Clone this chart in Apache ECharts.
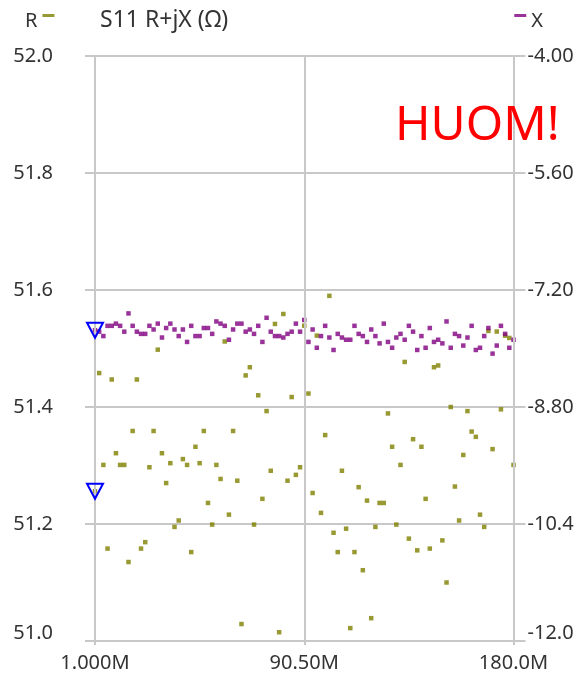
<!DOCTYPE html>
<html>
<head>
<meta charset="utf-8">
<script src="https://cdn.jsdelivr.net/npm/echarts@6/dist/echarts.min.js"></script>
<style>
  html, body { margin: 0; padding: 0; background: #ffffff; }
  #chart { width: 582px; height: 675px; }
</style>
</head>
<body>
<div id="chart"></div>
<script>
// Sweep frequencies (MHz), 101 points from 1 to 180 MHz
const freqMHz = [
  1.00, 2.79, 4.58, 6.37, 8.16, 9.95, 11.74, 13.53, 15.32, 17.11,
  18.90, 20.69, 22.48, 24.27, 26.06, 27.85, 29.64, 31.43, 33.22, 35.01,
  36.80, 38.59, 40.38, 42.17, 43.96, 45.75, 47.54, 49.33, 51.12, 52.91,
  54.70, 56.49, 58.28, 60.07, 61.86, 63.65, 65.44, 67.23, 69.02, 70.81,
  72.60, 74.39, 76.18, 77.97, 79.76, 81.55, 83.34, 85.13, 86.92, 88.71,
  90.50, 92.29, 94.08, 95.87, 97.66, 99.45, 101.24, 103.03, 104.82, 106.61,
  108.40, 110.19, 111.98, 113.77, 115.56, 117.35, 119.14, 120.93, 122.72, 124.51,
  126.30, 128.09, 129.88, 131.67, 133.46, 135.25, 137.04, 138.83, 140.62, 142.41,
  144.20, 145.99, 147.78, 149.57, 151.36, 153.15, 154.94, 156.73, 158.52, 160.31,
  162.10, 163.89, 165.68, 167.47, 169.26, 171.05, 172.84, 174.63, 176.42, 178.21,
  180.00
];

// Resistance R (ohm)
const resistance = [
  51.256, 51.458, 51.301, 51.158, 51.447, 51.321, 51.301, 51.301, 51.135, 51.359,
  51.447, 51.158, 51.169, 51.297, 51.359, 51.498, 51.321, 51.270, 51.304, 51.195,
  51.206, 51.311, 51.301, 51.152, 51.332, 51.304, 51.359, 51.236, 51.199, 51.301,
  51.277, 51.512, 51.216, 51.359, 51.274, 51.029, 51.454, 51.468, 51.199, 51.420,
  51.243, 51.393, 51.291, 51.542, 51.015, 51.559, 51.274, 51.417, 51.284, 51.297,
  51.539, 51.423, 51.253, 51.522, 51.219, 51.352, 51.590, 51.185, 51.152, 51.291,
  51.192, 51.022, 51.152, 51.263, 51.121, 51.240, 51.039, 51.195, 51.236, 51.236,
  51.389, 51.332, 51.199, 51.301, 51.477, 51.175, 51.345, 51.155, 51.332, 51.243,
  51.158, 51.468, 51.471, 51.172, 51.100, 51.400, 51.264, 51.206, 51.318, 51.393,
  51.358, 51.349, 51.216, 51.195, 51.530, 51.328, 51.529, 51.396, 51.522, 51.518,
  51.301
];

// Reactance X (ohm)
const reactance = [
  -7.75, -7.77, -7.83, -7.69, -7.69, -7.66, -7.69, -7.77, -7.52, -7.69,
  -7.77, -7.80, -7.80, -7.69, -7.74, -7.66, -7.85, -7.72, -7.66, -7.74,
  -7.83, -7.74, -7.91, -7.69, -7.83, -7.83, -7.72, -7.72, -7.80, -7.63,
  -7.66, -7.69, -7.88, -7.74, -7.66, -7.66, -7.77, -7.74, -7.80, -7.69,
  -7.91, -7.58, -7.77, -7.83, -7.83, -7.85, -7.80, -7.77, -7.66, -7.77,
  -7.61, -7.91, -7.74, -7.99, -7.83, -7.69, -7.85, -8.02, -7.80, -7.85,
  -7.88, -7.88, -7.69, -7.80, -7.83, -7.91, -7.74, -7.83, -7.93, -7.66,
  -7.91, -7.99, -7.85, -7.80, -7.88, -7.69, -7.77, -8.02, -7.83, -7.99,
  -7.72, -7.91, -7.88, -7.93, -7.63, -7.99, -7.80, -7.83, -7.96, -7.85,
  -7.69, -8.02, -7.99, -7.83, -7.72, -8.07, -7.96, -7.69, -7.80, -7.99,
  -7.88
];

// Axis ticks
const freqTicks = [1, 90.5, 180];
const rRange = [51.0, 52.0];
const rStep = 0.2;
const xRange = [-12.0, -4.0];

// Marker 1 sits on the first sweep point
const markerIndex = 0;

const FONT = 'Noto Sans';
const TEXT = '#333333';
const GRID = '#c8c8c8';
const R_COLOR = '#808000';
const X_COLOR = '#800080';
const MARKER = '#0000ff';

const rPoints = freqMHz.map((f, i) => [f, resistance[i]]);
const xPoints = freqMHz.map((f, i) => [f, reactance[i]]);

// Short dash sitting near the top of the legend row
const DASH_ICON = 'path://M0,0L12,0L12,3L0,3Z M0,14L0.01,14';

function marker(value) {
  return {
    symbol: 'triangle',
    symbolSize: [16, 15],
    symbolRotate: 180,
    silent: true,
    label: { show: false },
    itemStyle: { color: 'rgba(0,0,0,0)', borderColor: MARKER, borderWidth: 2 },
    data: [{ coord: value }]
  };
}

// Lowest tick label is lifted so it stays clear of the frequency labels
function tickLabel(lowest) {
  return v => (v === lowest ? '{low|' + v.toPrecision(3) + '}' : v.toPrecision(3));
}
const lowRich = { low: { padding: [0, 0, 16, 0], fontFamily: FONT, fontSize: 20, color: TEXT } };

const chart = echarts.init(document.getElementById('chart'), null, { renderer: 'canvas' });

chart.setOption({
  animation: false,
  backgroundColor: '#ffffff',
  textStyle: { fontFamily: FONT },
  title: {
    text: 'S11 R+jX (Ω)',
    left: 95,
    top: 4,
    textStyle: { fontFamily: FONT, fontSize: 23, fontWeight: 'normal', color: TEXT }
  },
  legend: [
    {
      data: ['R'],
      left: 20,
      top: 6,
      align: 'right',
      itemWidth: 12,
      itemHeight: 14,
      icon: DASH_ICON,
      textStyle: { fontFamily: FONT, fontSize: 20, color: TEXT },
      selectedMode: false
    },
    {
      data: ['X'],
      right: 34,
      top: 6,
      align: 'left',
      itemWidth: 12,
      itemHeight: 14,
      icon: DASH_ICON,
      textStyle: { fontFamily: FONT, fontSize: 20, color: TEXT },
      selectedMode: false
    }
  ],
  graphic: [
    {
      type: 'text',
      x: 395,
      y: 126,
      z: 100,
      style: { text: 'HUOM!', fill: '#ff0000', font: '48px "Noto Sans"', verticalAlign: 'middle' }
    }
  ],
  grid: { left: 95, right: 68.5, top: 56, bottom: 34, containLabel: false },
  xAxis: {
    type: 'value',
    min: freqTicks[0],
    max: freqTicks[freqTicks.length - 1],
    axisLine: { show: false },
    axisTick: { show: true, customValues: freqTicks, length: 4, lineStyle: { color: GRID, width: 2 } },
    axisLabel: {
      customValues: freqTicks,
      margin: 12,
      fontFamily: FONT,
      fontSize: 20,
      color: TEXT,
      formatter: v => v.toPrecision(4) + 'M'
    },
    splitLine: { show: false }
  },
  yAxis: [
    {
      type: 'value',
      min: rRange[0],
      max: rRange[1],
      interval: rStep,
      position: 'left',
      axisLine: { show: false },
      axisTick: { show: true, length: 10, lineStyle: { color: GRID, width: 2 } },
      axisLabel: {
        margin: 42, fontFamily: FONT, fontSize: 20, color: TEXT,
        formatter: tickLabel(rRange[0]), rich: lowRich
      },
      splitLine: { show: true, lineStyle: { color: GRID, width: 2 } }
    },
    {
      type: 'value',
      min: xRange[0],
      max: xRange[1],
      alignTicks: true,
      position: 'right',
      axisLine: { show: false },
      axisTick: { show: true, length: 12, lineStyle: { color: GRID, width: 2 } },
      axisLabel: {
        margin: 14, fontFamily: FONT, fontSize: 20, color: TEXT,
        formatter: tickLabel(xRange[0]), rich: lowRich
      },
      splitLine: { show: false }
    }
  ],
  series: [
    {
      name: 'R',
      type: 'scatter',
      yAxisIndex: 0,
      symbol: 'rect',
      symbolSize: 4.5,
      itemStyle: { color: R_COLOR },
      data: rPoints,
      markLine: {
        silent: true,
        symbol: 'none',
        label: { show: false },
        lineStyle: { color: GRID, width: 2, type: 'solid' },
        data: freqTicks.map(f => ({ xAxis: f }))
      },
      markPoint: marker(rPoints[markerIndex]),
      z: 2
    },
    {
      name: 'X',
      type: 'scatter',
      yAxisIndex: 1,
      symbol: 'rect',
      symbolSize: 4.5,
      itemStyle: { color: X_COLOR },
      data: xPoints,
      markPoint: marker(xPoints[markerIndex]),
      z: 3
    }
  ]
});
</script>
</body>
</html>
